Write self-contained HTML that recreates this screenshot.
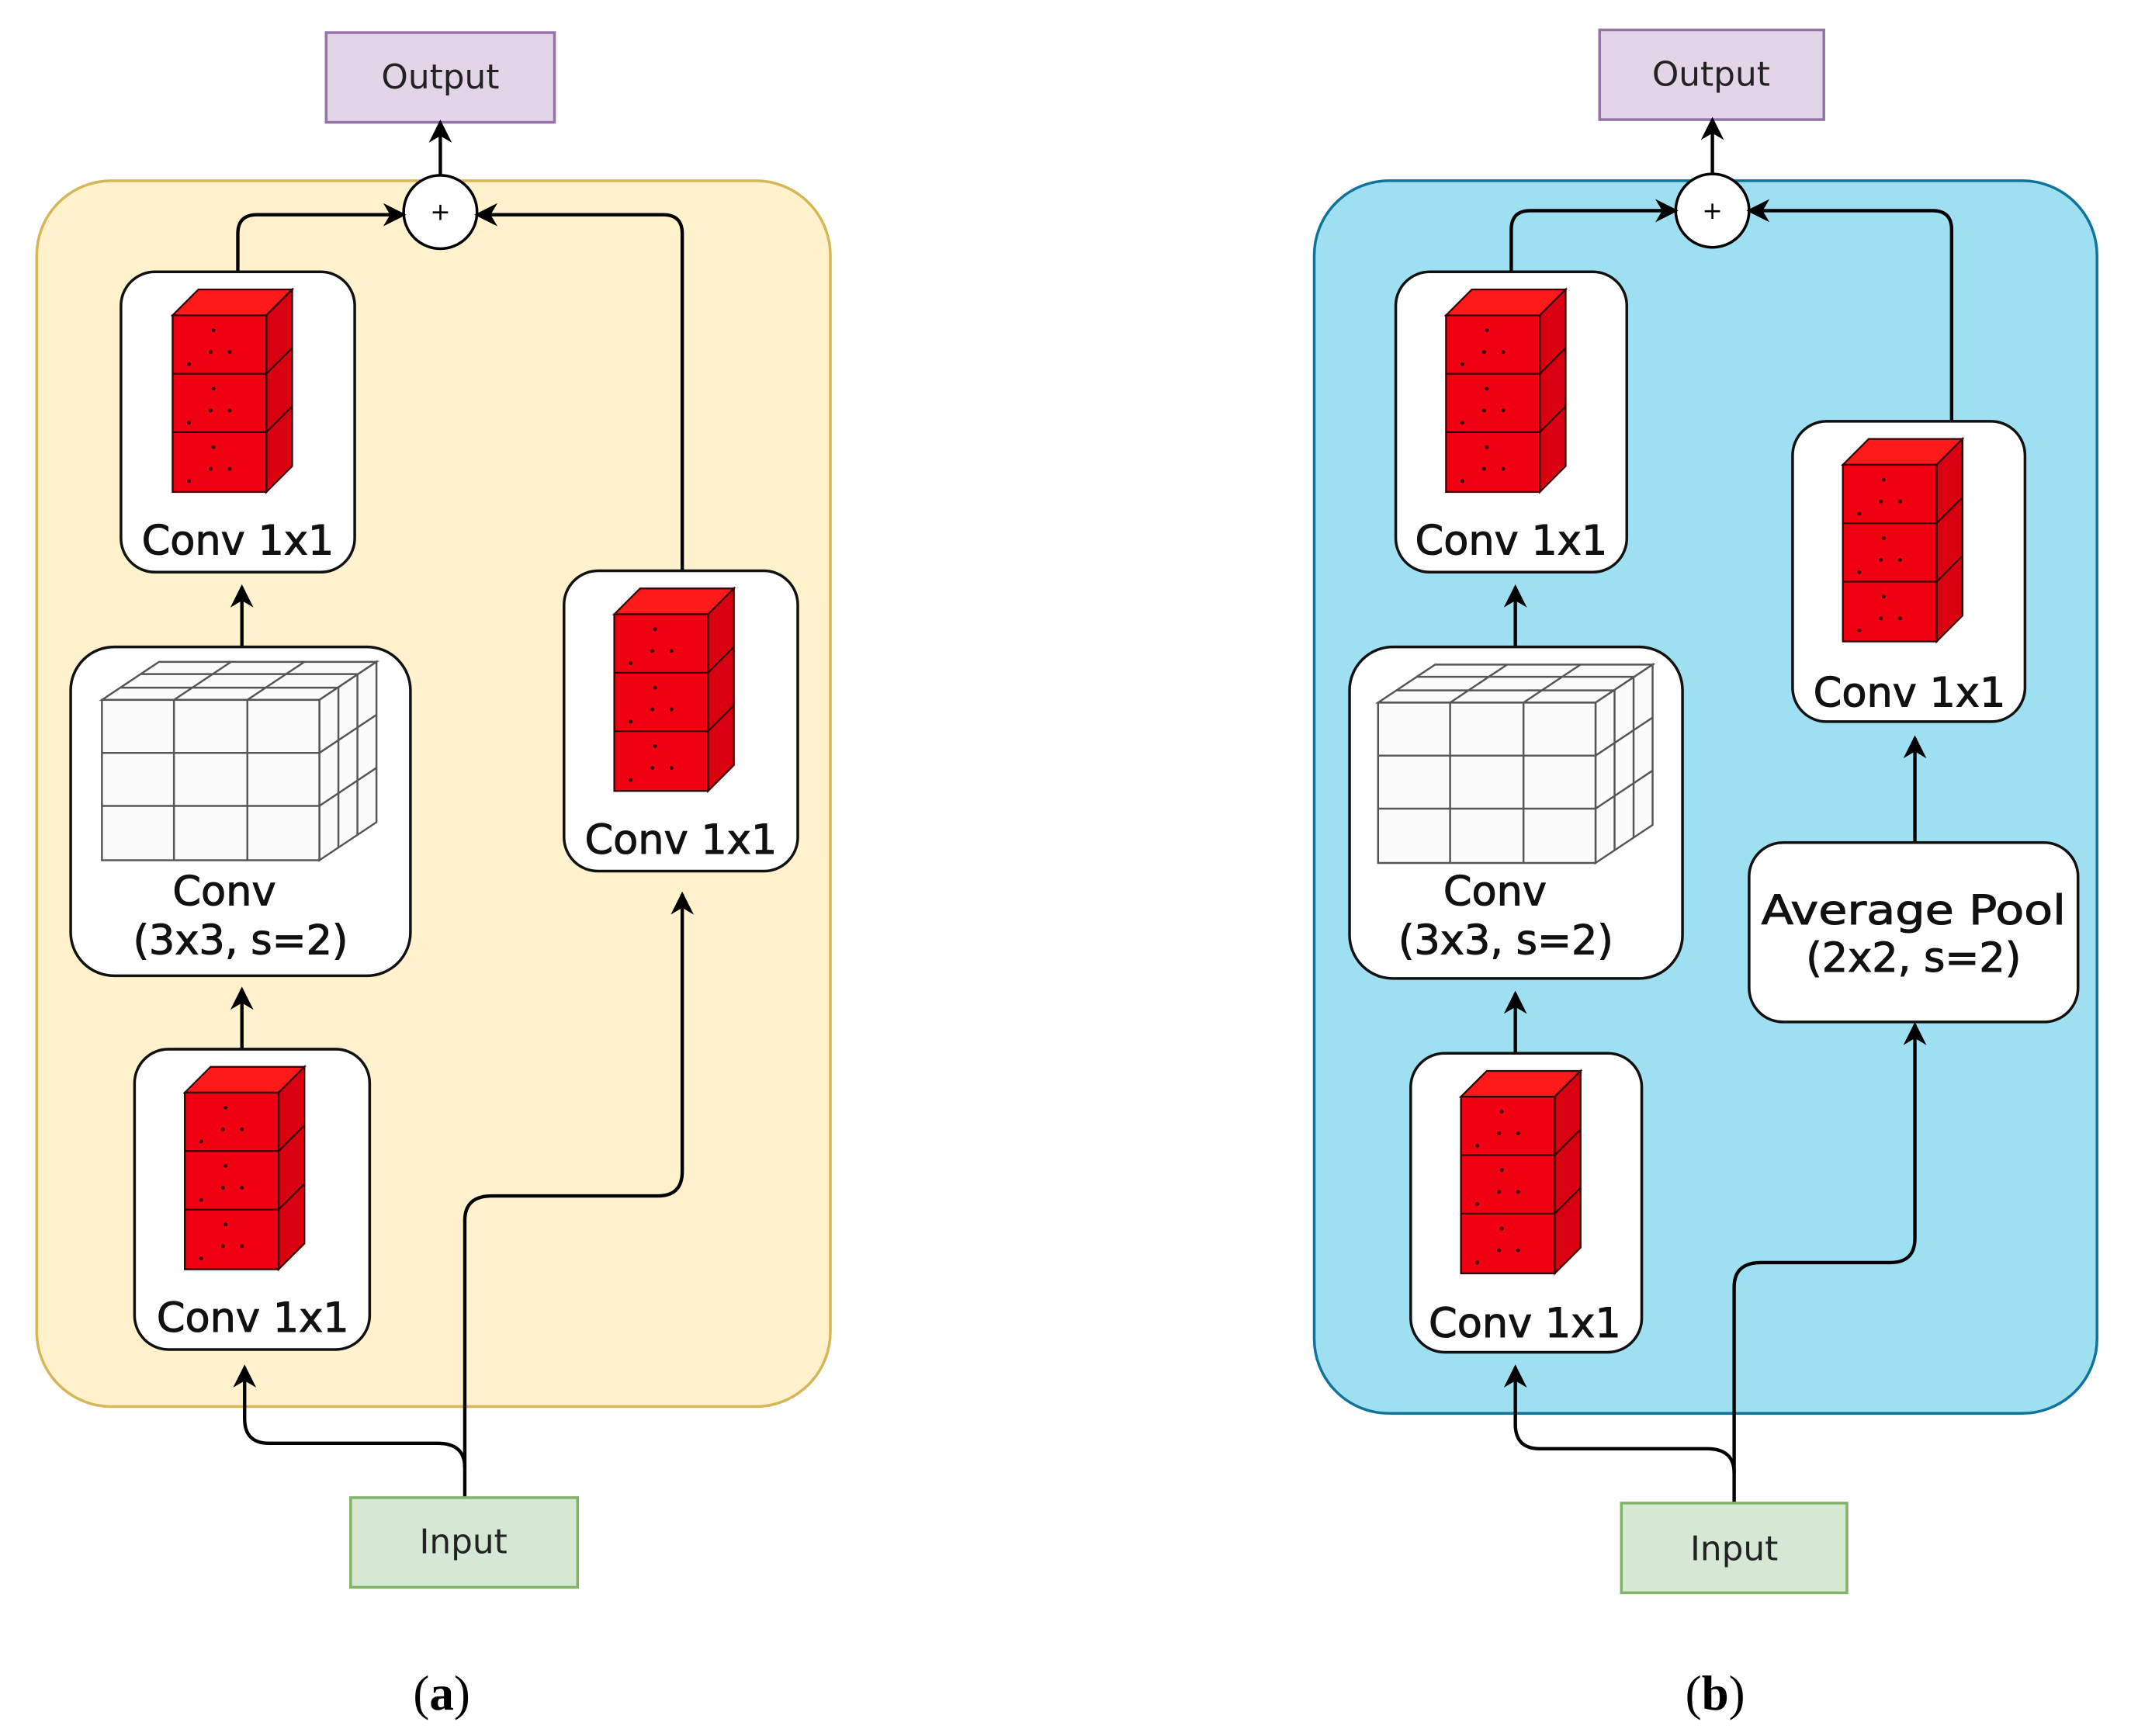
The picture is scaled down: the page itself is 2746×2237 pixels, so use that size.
<!DOCTYPE html>
<html><head><meta charset="utf-8"><style>
html,body{margin:0;padding:0;background:#fff;}
svg{display:block;}
text{font-family:"DejaVu Sans","Liberation Sans",sans-serif;}
.lb{font-size:30px;fill:#111;stroke:#111;stroke-width:0.6;}
</style></head><body>
<svg width="2746" height="2237" viewBox="0 0 1568 1277.4" preserveAspectRatio="none" xmlns="http://www.w3.org/2000/svg">
<defs>
<marker id="ar" markerWidth="17" markerHeight="17" refX="15" refY="8.5" orient="auto" markerUnits="userSpaceOnUse" viewBox="0 0 17 17">
<path d="M0,0 L17,8.5 L0,17 L5,8.5 z" fill="#000"/>
</marker>
<g id="red">
<polygon points="0,19 19,0 88,0 69,19" fill="#ff1a1a" stroke="#300" stroke-width="1.3"/>
<polygon points="69,19 88,0 88,130 69,149" fill="#d90010" stroke="#300" stroke-width="1.3"/>
<rect x="0" y="19" width="69" height="130" fill="#f00010" stroke="#300" stroke-width="1.3"/>
<line x1="0" y1="62" x2="69" y2="62" stroke="#300" stroke-width="1.3"/>
<line x1="0" y1="105" x2="69" y2="105" stroke="#300" stroke-width="1.3"/>
<line x1="69" y1="62" x2="88" y2="43" stroke="#300" stroke-width="1.3"/>
<line x1="69" y1="105" x2="88" y2="86" stroke="#300" stroke-width="1.3"/>
<g fill="#300"><circle cx="30" cy="30" r="1.4"/><circle cx="28" cy="46" r="1.4"/><circle cx="42" cy="46" r="1.4"/><circle cx="12" cy="55" r="1.4"/>
<circle cx="30" cy="73" r="1.4"/><circle cx="28" cy="89" r="1.4"/><circle cx="42" cy="89" r="1.4"/><circle cx="12" cy="98" r="1.4"/>
<circle cx="30" cy="116" r="1.4"/><circle cx="28" cy="132" r="1.4"/><circle cx="42" cy="132" r="1.4"/><circle cx="12" cy="141" r="1.4"/></g>
</g>
<g id="grey" fill="#fbfbfb" stroke="#555" stroke-width="1.4">
<polygon points="0,28 42,0 202,0 160,28"/>
<polygon points="160,28 202,0 202,118 160,146"/>
<rect x="0" y="28" width="160" height="118"/>
<line x1="53" y1="28" x2="53" y2="146"/><line x1="107" y1="28" x2="107" y2="146"/>
<line x1="0" y1="67" x2="160" y2="67"/><line x1="0" y1="106" x2="160" y2="106"/>
<line x1="14" y1="19" x2="174" y2="19"/><line x1="28" y1="9" x2="188" y2="9"/>
<line x1="53" y1="28" x2="95" y2="0"/><line x1="107" y1="28" x2="149" y2="0"/>
<line x1="174" y1="19" x2="174" y2="137"/><line x1="188" y1="9" x2="188" y2="127"/>
<line x1="160" y1="67" x2="202" y2="39"/><line x1="160" y1="106" x2="202" y2="78"/>
</g>
</defs>

<!-- Panel a -->
<rect x="27" y="133" width="584" height="902" rx="55" fill="#fff2cc" stroke="#d6b656" stroke-width="2"/>
<rect x="240" y="24" width="168" height="66" fill="#e1d5e7" stroke="#9673a6" stroke-width="2"/>
<text x="324" y="65" font-size="25" text-anchor="middle" fill="#222">Output</text>
<line x1="324" y1="129" x2="324" y2="90" stroke="#000" stroke-width="2.5" marker-end="url(#ar)"/>
<circle cx="324" cy="156" r="27" fill="#fff" stroke="#000" stroke-width="2"/>
<text x="324" y="162" font-size="18" text-anchor="middle">+</text>
<path d="M175,200 V172 Q175,158 189,158 H297" fill="none" stroke="#000" stroke-width="2.5" marker-end="url(#ar)"/>
<path d="M502,420 V172 Q502,158 488,158 H351" fill="none" stroke="#000" stroke-width="2.5" marker-end="url(#ar)"/>

<rect x="89" y="200" width="172" height="221" rx="25" fill="#fff" stroke="#111" stroke-width="2"/>
<use href="#red" x="127" y="213"/>
<text class="lb" x="175" y="408" text-anchor="middle">Conv 1x1</text>
<line x1="178" y1="476" x2="178" y2="432" stroke="#000" stroke-width="2.5" marker-end="url(#ar)"/>

<rect x="52" y="476" width="250" height="242" rx="32" fill="#fff" stroke="#111" stroke-width="2"/>
<use href="#grey" x="75" y="487"/>
<text class="lb" x="165" y="666" text-anchor="middle">Conv</text>
<text class="lb" x="177" y="702" text-anchor="middle">(3x3, s=2)</text>
<line x1="178" y1="772" x2="178" y2="728" stroke="#000" stroke-width="2.5" marker-end="url(#ar)"/>

<rect x="99" y="772" width="173" height="221" rx="25" fill="#fff" stroke="#111" stroke-width="2"/>
<use href="#red" x="136" y="785"/>
<text class="lb" x="186" y="980" text-anchor="middle">Conv 1x1</text>

<rect x="415" y="420" width="172" height="221" rx="25" fill="#fff" stroke="#111" stroke-width="2"/>
<use href="#red" x="452" y="433"/>
<text class="lb" x="501" y="628" text-anchor="middle">Conv 1x1</text>

<path d="M342,1102 V1080 Q342,1062 322,1062 H198 Q180,1062 180,1044 V1006" fill="none" stroke="#000" stroke-width="2.5" marker-end="url(#ar)"/>
<path d="M342,1080 V898 Q342,880 362,880 H484 Q502,880 502,862 V658" fill="none" stroke="#000" stroke-width="2.5" marker-end="url(#ar)"/>
<rect x="258" y="1102" width="167" height="66" fill="#d5e8d4" stroke="#82b366" stroke-width="2"/>
<text x="341" y="1143" font-size="25" text-anchor="middle" fill="#222">Input</text>
<text x="325" y="1258" font-size="36" text-anchor="middle" style="font-family:'Liberation Serif',serif">(<tspan font-weight="bold">a</tspan>)</text>

<!-- Panel b -->
<rect x="967" y="133" width="576" height="907" rx="55" fill="#9edff1" stroke="#10739e" stroke-width="2"/>
<rect x="1177" y="22" width="165" height="66" fill="#e1d5e7" stroke="#9673a6" stroke-width="2"/>
<text x="1259" y="63" font-size="25" text-anchor="middle" fill="#222">Output</text>
<line x1="1260" y1="128" x2="1260" y2="88" stroke="#000" stroke-width="2.5" marker-end="url(#ar)"/>
<circle cx="1260" cy="155" r="27" fill="#fff" stroke="#000" stroke-width="2"/>
<text x="1260" y="161" font-size="18" text-anchor="middle">+</text>
<path d="M1112,200 V169 Q1112,155 1126,155 H1233" fill="none" stroke="#000" stroke-width="2.5" marker-end="url(#ar)"/>
<path d="M1436,310 V169 Q1436,155 1422,155 H1287" fill="none" stroke="#000" stroke-width="2.5" marker-end="url(#ar)"/>

<rect x="1027" y="200" width="170" height="221" rx="25" fill="#fff" stroke="#111" stroke-width="2"/>
<use href="#red" x="1064" y="213"/>
<text class="lb" x="1112" y="408" text-anchor="middle">Conv 1x1</text>
<line x1="1115" y1="476" x2="1115" y2="432" stroke="#000" stroke-width="2.5" marker-end="url(#ar)"/>

<rect x="993" y="476" width="245" height="244" rx="32" fill="#fff" stroke="#111" stroke-width="2"/>
<use href="#grey" x="1014" y="489"/>
<text class="lb" x="1100" y="666" text-anchor="middle">Conv</text>
<text class="lb" x="1108" y="702" text-anchor="middle">(3x3, s=2)</text>
<line x1="1115" y1="775" x2="1115" y2="731" stroke="#000" stroke-width="2.5" marker-end="url(#ar)"/>

<rect x="1038" y="775" width="170" height="220" rx="25" fill="#fff" stroke="#111" stroke-width="2"/>
<use href="#red" x="1075" y="788"/>
<text class="lb" x="1122" y="984" text-anchor="middle">Conv 1x1</text>

<rect x="1319" y="310" width="171" height="221" rx="25" fill="#fff" stroke="#111" stroke-width="2"/>
<use href="#red" x="1356" y="323"/>
<text class="lb" x="1405" y="520" text-anchor="middle">Conv 1x1</text>
<line x1="1409" y1="620" x2="1409" y2="543" stroke="#000" stroke-width="2.5" marker-end="url(#ar)"/>

<rect x="1287" y="620" width="242" height="132" rx="25" fill="#fff" stroke="#111" stroke-width="2"/>
<text class="lb" x="1408" y="680" text-anchor="middle" textLength="224" lengthAdjust="spacingAndGlyphs">Average Pool</text>
<text class="lb" x="1408" y="715" text-anchor="middle">(2x2, s=2)</text>

<path d="M1276,1106 V1084 Q1276,1066 1256,1066 H1133 Q1115,1066 1115,1048 V1006" fill="none" stroke="#000" stroke-width="2.5" marker-end="url(#ar)"/>
<path d="M1276,1084 V947 Q1276,929 1296,929 H1391 Q1409,929 1409,911 V754" fill="none" stroke="#000" stroke-width="2.5" marker-end="url(#ar)"/>
<rect x="1193" y="1106" width="166" height="66" fill="#d5e8d4" stroke="#82b366" stroke-width="2"/>
<text x="1276" y="1148" font-size="25" text-anchor="middle" fill="#222">Input</text>
<text x="1262" y="1258" font-size="36" text-anchor="middle" style="font-family:'Liberation Serif',serif">(<tspan font-weight="bold">b</tspan>)</text>
</svg>
</body></html>
